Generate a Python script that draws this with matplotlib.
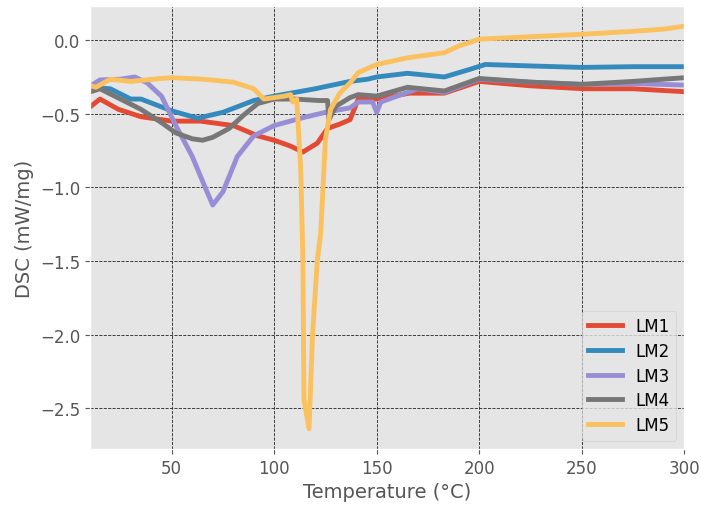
import numpy as np
import matplotlib
matplotlib.use("Agg")
import matplotlib.pyplot as plt

plt.style.use('ggplot')

# LM1
t1 = [10.5, 15, 24, 35, 50, 64, 80, 92, 100, 108, 114, 121, 126, 132, 137, 139, 141, 150, 166, 183, 200, 225, 251, 275, 300]
v1 = [-0.45, -0.40, -0.47, -0.52, -0.55, -0.55, -0.58, -0.65, -0.68, -0.72, -0.76, -0.70, -0.60, -0.57, -0.54, -0.47, -0.40, -0.40, -0.36, -0.36, -0.28, -0.31, -0.33, -0.33, -0.35]
# LM2
t2 = [10.5, 20, 30, 35, 50, 62.6, 75, 90, 100, 120, 137, 145.6, 150, 165, 183, 195, 203, 225, 250, 275, 300]
v2 = [-0.32, -0.33, -0.40, -0.40, -0.48, -0.53, -0.49, -0.41, -0.38, -0.33, -0.28, -0.265, -0.25, -0.225, -0.25, -0.20, -0.165, -0.175, -0.185, -0.18, -0.18]
# LM3
t3 = [10.5, 15, 25, 32, 38, 45, 52, 60, 66, 70, 75, 82, 90, 100, 113, 125, 137, 141, 148, 150, 152, 160, 170, 183, 200, 225, 250, 275, 300]
v3 = [-0.31, -0.27, -0.265, -0.25, -0.29, -0.38, -0.58, -0.79, -0.99, -1.12, -1.03, -0.79, -0.65, -0.58, -0.53, -0.49, -0.46, -0.42, -0.42, -0.49, -0.42, -0.38, -0.33, -0.355, -0.265, -0.285, -0.30, -0.295, -0.305]
# LM4
t4 = [10.5, 15, 25, 35, 45, 52, 60, 65, 70, 78, 85, 92, 100, 110, 122, 126, 126.7, 130, 137, 141, 150, 165, 183, 200, 225, 250, 275, 300]
v4 = [-0.35, -0.33, -0.40, -0.47, -0.56, -0.63, -0.67, -0.68, -0.66, -0.60, -0.51, -0.43, -0.40, -0.40, -0.41, -0.41, -0.54, -0.45, -0.39, -0.37, -0.38, -0.32, -0.345, -0.26, -0.285, -0.30, -0.28, -0.255]
# LM5
t5 = [10.5, 13, 20, 30, 45, 50, 65, 80, 90, 95, 100, 105, 108, 109, 111, 113, 114, 114.5, 117, 118.7, 121, 122.7, 125, 127.5, 132, 137, 141, 150, 165, 183, 190, 200, 220, 250, 275, 290, 300]
v5 = [-0.31, -0.32, -0.265, -0.28, -0.26, -0.255, -0.265, -0.285, -0.33, -0.40, -0.39, -0.38, -0.37, -0.42, -0.40, -0.90, -1.50, -2.44, -2.64, -2.00, -1.50, -1.31, -0.67, -0.47, -0.36, -0.29, -0.22, -0.165, -0.12, -0.085, -0.04, 0.007, 0.02, 0.04, 0.06, 0.075, 0.095]

labels = ['LM1', 'LM2', 'LM3', 'LM4', 'LM5']
colors = ['#E24A33', '#348ABD', '#988ED5', '#777777', '#FBC15E']

fig, ax = plt.subplots(figsize=(7.01, 5.06), dpi=100)
fig.subplots_adjust(left=0.128, right=0.976, top=0.986, bottom=0.111)

for t, v, lab, c in zip([t1, t2, t3, t4, t5], [v1, v2, v3, v4, v5], labels, colors):
    ax.plot(t, v, color=c, lw=3.5, label=lab)

ax.set_xlim(10, 300)
ax.grid(True, color='#222222', linestyle='--', linewidth=0.6)
ax.tick_params(labelsize=12)
ax.set_xlabel('Temperature (°C)', fontsize=14)
ax.set_ylabel('DSC (mW/mg)', fontsize=14)
ax.legend(loc='lower right', fontsize=12, labelspacing=0.4)

plt.savefig('out.png')
